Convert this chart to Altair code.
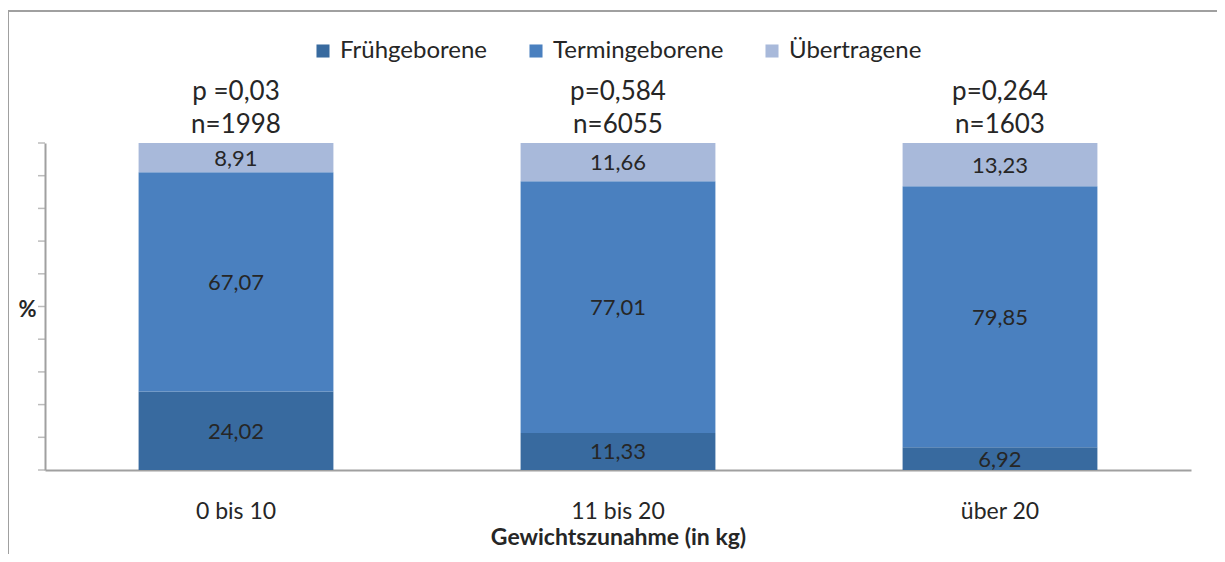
import altair as alt
import pandas as pd

categories = ["0 bis 10", "11 bis 20", "über 20"]
series = ["Frühgeborene", "Termingeborene", "Übertragene"]
frueh = [24.02, 11.33, 6.92]
termin = [67.07, 77.01, 79.85]
uebertr = [8.91, 11.66, 13.23]
p_labels = ["p =0,03", "p=0,584", "p=0,264"]
n_labels = ["n=1998", "n=6055", "n=1603"]
tick_values = [0, 10, 20, 30, 40, 50, 60, 70, 80, 90, 100]
colors = ["#386A9F", "#4A80BF", "#A8B9DA"]

rows = []
for i, c in enumerate(categories):
    for j, (s, vals) in enumerate(zip(series, [frueh, termin, uebertr])):
        rows.append({"cat": c, "series": s, "ord": j, "value": vals[i]})
df = pd.DataFrame(rows)
ann = pd.DataFrame({"cat": categories, "p": p_labels, "n": n_labels, "top": [100, 100, 100]})
ticks_df = pd.DataFrame({"t": tick_values})

FONT = "Lato"
TXT = "#262626"
GRAY = "#A0A0A0"

xenc = alt.X("cat:N", sort=categories,
             scale=alt.Scale(paddingInner=0.49, paddingOuter=0.245),
             axis=alt.Axis(title="Gewichtszunahme (in kg)", labelAngle=0, ticks=False,
                           labelPadding=30, labelFontSize=23, labelColor=TXT, labelFont=FONT,
                           titleFontSize=23, titleFont=FONT, titleFontWeight="bold",
                           titleColor=TXT, titleY=67, titleBaseline="middle",
                           domainColor=GRAY, domainWidth=2))

yscale = alt.Scale(domain=[0, 100], nice=False)
xsub = alt.X("cat:N", sort=categories)

bars = alt.Chart(df).mark_bar().encode(
    x=xenc,
    y=alt.Y("value:Q", stack="zero", scale=yscale,
            axis=alt.Axis(title="%", titleAngle=0, titleX=-18, titleY=166,
                          titleAlign="center", titleBaseline="middle",
                          titleFontSize=22, titleFont=FONT, titleFontWeight="bold", titleColor=TXT,
                          labels=False, ticks=False, domainColor=GRAY, domainWidth=2,
                          grid=False)),
    color=alt.Color("series:N", sort=series,
                    scale=alt.Scale(domain=series, range=colors),
                    legend=alt.Legend(title=None, orient="none", direction="horizontal",
                                      legendX=266, legendY=-104, symbolType="square",
                                      symbolSize=170, symbolStrokeWidth=0, labelFontSize=24,
                                      labelFont=FONT, labelColor=TXT, columnPadding=36,
                                      labelOffset=5, labelLimit=400)),
    order=alt.Order("ord:Q", sort="ascending"),
)

yticks = alt.Chart(ticks_df).mark_tick(color=GRAY, thickness=1.5, orient="horizontal",
                                      size=7, xOffset=-3.5).encode(
    x=alt.value(0), y=alt.Y("t:Q", scale=yscale))

labels = alt.Chart(df).transform_stack(
    stack="value", groupby=["cat"], as_=["y0", "y1"],
    sort=[alt.SortField("ord", order="ascending")]
).transform_calculate(
    mid="(datum.y0 + datum.y1) / 2",
    lab="replace(format(datum.value, '.2f'), '.', ',')"
).mark_text(fontSize=22, font=FONT, color=TXT, baseline="middle", dy=1).encode(
    x=xsub,
    y=alt.Y("mid:Q", scale=yscale),
    text="lab:N",
)

ptext = alt.Chart(ann).mark_text(fontSize=26, font=FONT, color=TXT, baseline="middle", dy=-51).encode(
    x=xsub, y=alt.Y("top:Q", scale=yscale), text="p:N")
ntext = alt.Chart(ann).mark_text(fontSize=26, font=FONT, color=TXT, baseline="middle", dy=-18).encode(
    x=xsub, y=alt.Y("top:Q", scale=yscale), text="n:N")

border_top = alt.Chart(ann).mark_rule(color=GRAY, strokeWidth=2).encode(
    x=alt.value(-37), x2=alt.value(1190), y=alt.value(-132))
border_left = alt.Chart(ann).mark_rule(color=GRAY, strokeWidth=2).encode(
    x=alt.value(-37), y=alt.value(-132), y2=alt.value(420))

chart = alt.layer(bars, yticks, labels, ptext, ntext, border_top, border_left).properties(
    width=1146, height=327,
    autosize=alt.AutoSizeParams(type="none"),
    padding={"left": 37, "top": 135, "right": 26, "bottom": 84},
).configure(font=FONT).configure_view(strokeWidth=0, stroke="transparent")

chart.save("out.html", embed_options={"renderer": "svg", "actions": False})
